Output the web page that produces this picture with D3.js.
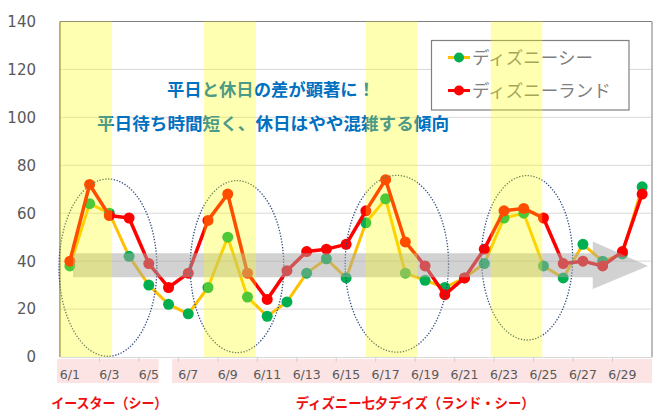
<!DOCTYPE html>
<html>
<head>
<meta charset="utf-8">
<script src="https://cdn.jsdelivr.net/npm/d3@7"></script>
<style>
  html, body { margin: 0; padding: 0; background: #fff; }
  svg { display: block; }
</style>
</head>
<body>
<svg id="chart" width="669" height="417"></svg>
<script>
// ---------------- data ----------------
const dates = ["6/1","6/2","6/3","6/4","6/5","6/6","6/7","6/8","6/9","6/10",
  "6/11","6/12","6/13","6/14","6/15","6/16","6/17","6/18","6/19","6/20",
  "6/21","6/22","6/23","6/24","6/25","6/26","6/27","6/28","6/29","6/30"];
const seaValues  = [38,64,60,42,30,22,18,29,50,25,17,23,35,41,33,56,66,35,32,29,33,39,58,60,38,33,47,40,43,71];
const landValues = [40,72,59,58,39,29,35,57,68,35,24,36,44,45,47,61,74,48,38,26,33,45,61,62,58,39,40,38,44,68];
const seriesNames = ["ディズニーシー","ディズニーランド"];
const yTicks = [0,20,40,60,80,100,120,140];
const xTickLabels = dates.filter((d,i) => i % 2 === 0);
// highlighted day ranges (in day-index units)
const bandStarts = [0, 7.3, 15.49, 21.83];
const bandEnds   = [2.64, 9.93, 18.1, 24.44];
// event periods under the axis
const periodLabels = ["イースター（シー）","ディズニー七夕デイズ（ランド・シー）"];
const periodStarts = [0, 6];
const periodEnds   = [5, 30];
// dotted ellipses: centre day-index, centre value, half width (days), half height (value)
const ellipseCx = [2.43, 8.97, 17.07, 23.67];
const ellipseCy = [37.3, 37.7, 38.9, 41.4];
const ellipseRx = [2.48, 2.37, 2.62, 2.31];
const ellipseRy = [37, 35.9, 36.9, 34.3];
const noteLines = ["平日と休日の差が顕著に！","平日待ち時間短く、休日はやや混雑する傾向"];

// ---------------- layout ----------------
const L = 60, R = 652, T = 21.5, B = 357;
const svg = d3.select("#chart");
const x = d3.scaleBand().domain(dates).range([L, R]).padding(0);
const xi = d3.scaleLinear().domain([0, dates.length]).range([L, R]);
const y = d3.scaleLinear().domain([0, 140]).range([B, T]);
const jp = "'Noto Sans CJK JP','Noto Sans',sans-serif";
const cx = d => x(d) + x.bandwidth() / 2;

// pink period rects + labels
periodLabels.forEach((lab, i) => {
  svg.append("rect")
    .attr("x", xi(periodStarts[i]) - (i === 0 ? 0.15 : 0.32) * x.bandwidth())
    .attr("y", 359)
    .attr("width", xi(periodEnds[i]) - xi(periodStarts[i]) + (i === 0 ? 0.15 : 0.32) * x.bandwidth())
    .attr("height", 24)
    .attr("fill", "#fce4e4");
});

// gridlines
svg.append("g").selectAll("line").data(yTicks.filter(t => t > 0 && t < 140)).join("line")
  .attr("x1", L).attr("x2", R).attr("y1", d => y(d)).attr("y2", d => y(d))
  .attr("stroke", "#d9d9d9").attr("stroke-width", 1);

// y axis labels
svg.append("g").selectAll("text").data(yTicks).join("text")
  .attr("x", 36).attr("y", d => y(d)).attr("dy", "0.36em")
  .attr("text-anchor", "end")
  .attr("font-family", "'DejaVu Sans',sans-serif").attr("font-size", 15)
  .attr("fill", "#595959").text(d => d);

// x axis
const xAxis = d3.axisBottom(x).tickValues(xTickLabels).tickSize(0).tickPadding(0);
const gx = svg.append("g").attr("transform", `translate(0,${B})`).call(xAxis);
gx.select(".domain").attr("stroke", "#d9d9d9");
gx.selectAll("text").attr("font-family", "'DejaVu Sans',sans-serif").attr("font-size", 12.5)
  .attr("fill", "#595959").attr("dy", 0).attr("y", 22);
// tick marks between every second category
svg.append("g").selectAll("line").data(d3.range(2, dates.length, 2)).join("line")
  .attr("x1", d => xi(d)).attr("x2", d => xi(d)).attr("y1", B).attr("y2", B + 5)
  .attr("stroke", "#d0d0d0");

// plot border
svg.append("line").attr("x1", L).attr("x2", R).attr("y1", T).attr("y2", T).attr("stroke", "#7f7f7f");
svg.append("line").attr("x1", R).attr("x2", R).attr("y1", T).attr("y2", B).attr("stroke", "#a6a6a6").attr("stroke-width", 1.5);
svg.append("line").attr("x1", L).attr("x2", L).attr("y1", T).attr("y2", B).attr("stroke", "#8c8c8c").attr("stroke-width", 1.5);

// series
const line = d3.line().x((d, i) => cx(dates[i])).y(d => y(d));
function drawSeries(vals, lineColor, markColor, w) {
  svg.append("path").datum(vals).attr("d", line)
    .attr("fill", "none").attr("stroke", lineColor).attr("stroke-width", w)
    .attr("stroke-linejoin", "round");
  svg.append("g").selectAll("circle").data(vals).join("circle")
    .attr("cx", (d, i) => cx(dates[i])).attr("cy", d => y(d)).attr("r", 5.5)
    .attr("fill", markColor);
}
drawSeries(seaValues, "#ffc000", "#00b050", 3);
drawSeries(landValues, "#ff0000", "#ff0000", 3.5);

// dotted ellipses
ellipseCx.forEach((c, i) => {
  svg.append("ellipse")
    .attr("cx", xi(c)).attr("cy", y(ellipseCy[i]))
    .attr("rx", xi(ellipseRx[i]) - xi(0)).attr("ry", y(0) - y(ellipseRy[i]))
    .attr("fill", "none").attr("stroke", "#2f4b7c").attr("stroke-width", 1.3)
    .attr("stroke-dasharray", "1.3 1.6");
});

// grey arrow (trend)
const a0 = 0.66, a1 = 27.0, a2 = 29.8;
const arrowPts = [
  [xi(a0), y(43.3)], [xi(a1), y(43.3)], [xi(a1), y(48.2)], [xi(a2), y(38)],
  [xi(a1), y(28.4)], [xi(a1), y(33.3)], [xi(a0), y(33.3)]
];
svg.append("path").attr("d", d3.line()(arrowPts) + "Z")
  .attr("fill", "#a6a6a6").attr("opacity", 0.5);

// annotation text
svg.append("text").attr("x", 271).attr("y", 96).attr("text-anchor", "middle")
  .attr("font-family", jp).attr("font-weight", 700).attr("font-size", 17)
  .attr("fill", "#0070c0").attr("textLength", 208).attr("lengthAdjust", "spacingAndGlyphs")
  .text(noteLines[0]);
svg.append("text").attr("x", 273).attr("y", 130).attr("text-anchor", "middle")
  .attr("font-family", jp).attr("font-weight", 700).attr("font-size", 17)
  .attr("fill", "#0070c0").attr("textLength", 352).attr("lengthAdjust", "spacingAndGlyphs")
  .text(noteLines[1]);

// legend
const lg = svg.append("g");
lg.append("rect").attr("x", 431.5).attr("y", 40.5).attr("width", 197.5).attr("height", 69.5)
  .attr("fill", "#fff").attr("stroke", "#808080").attr("stroke-width", 1.2);
const legendRows = [
  {name: seriesNames[0], lc: "#ffc000", mc: "#00b050", yy: 57.5},
  {name: seriesNames[1], lc: "#ff0000", mc: "#ff0000", yy: 90.5}
];
legendRows.forEach(r => {
  lg.append("line").attr("x1", 448).attr("x2", 470).attr("y1", r.yy).attr("y2", r.yy)
    .attr("stroke", r.lc).attr("stroke-width", 3);
  lg.append("circle").attr("cx", 459).attr("cy", r.yy).attr("r", 5).attr("fill", r.mc);
  lg.append("text").attr("x", 472).attr("y", r.yy + 6.5)
    .attr("font-family", jp).attr("font-size", 17.5).attr("fill", "#7f7f7f")
    .text(r.name);
});

// translucent yellow highlight bands (on top)
bandStarts.forEach((s, i) => {
  svg.append("rect")
    .attr("x", xi(s)).attr("y", T).attr("width", xi(bandEnds[i]) - xi(s)).attr("height", B - T)
    .attr("fill", "#ffff00").attr("opacity", 0.3);
});

// period labels
periodLabels.forEach((lab, i) => {
  const mid = (xi(periodStarts[i]) + xi(periodEnds[i])) / 2;
  svg.append("text").attr("x", mid).attr("y", 408).attr("text-anchor", "middle")
    .attr("font-family", jp).attr("font-weight", 700).attr("font-size", 14)
    .attr("fill", "#ee1111")
    .attr("textLength", i === 0 ? 116 : 239).attr("lengthAdjust", "spacingAndGlyphs")
    .text(lab);
});
</script>
</body>
</html>
